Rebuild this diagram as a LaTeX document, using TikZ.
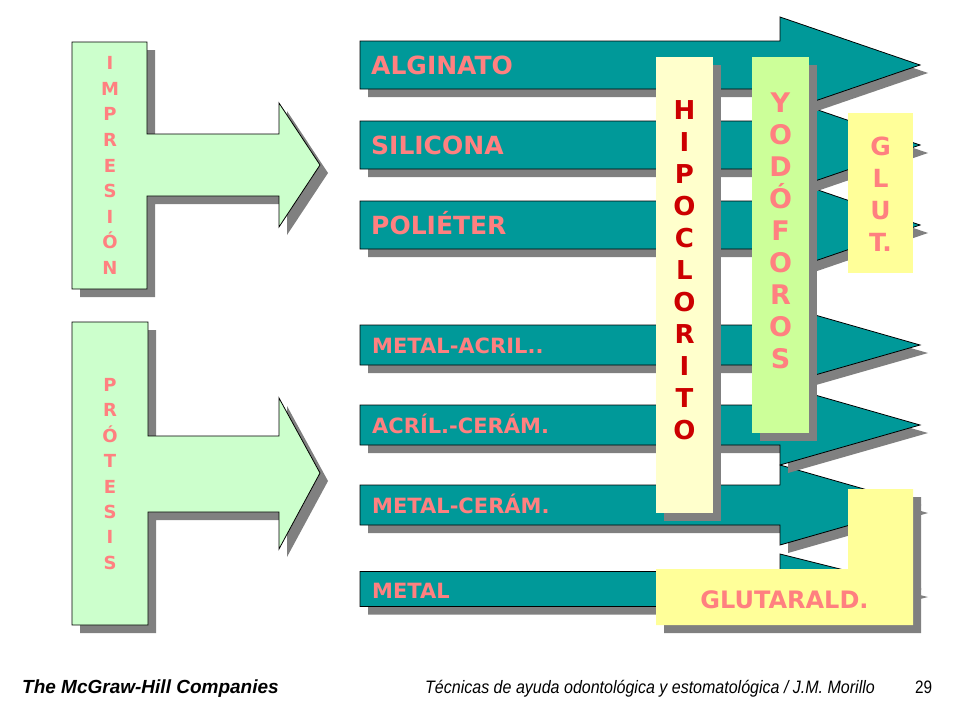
\documentclass[tikz,border=0pt]{standalone}
\usepackage{fontspec}
\setmainfont{DejaVu Sans}
\newfontfamily\footfont{Liberation Sans}
\usetikzlibrary{shadows}

\definecolor{rowteal}{HTML}{009999}
\definecolor{salmon}{HTML}{FF8080}
\definecolor{shadowgray}{HTML}{808080}
\definecolor{mint}{HTML}{CCFFCC}
\definecolor{cream}{HTML}{FFFFCC}
\definecolor{lime}{HTML}{CCFF99}
\definecolor{lemon}{HTML}{FFFF99}
\definecolor{deepred}{HTML}{CC0000}

\begin{document}
\begin{tikzpicture}[x=1pt, y=-1pt,
  shade8/.style = {drop shadow={shadow xshift=8pt, shadow yshift=-8pt, fill=shadowgray, opacity=1}},
  row/.style = {draw=black, line width=0.8pt, fill=rowteal, shade8},
  tee/.style = {draw=black, line width=0.8pt, fill=mint, shade8},
  rowtext/.style = {anchor=base west, inner sep=0pt, text=salmon, font=\bfseries\fontsize{#1}{#1}\selectfont},
  stack/.style = {align=center, inner sep=0pt, font=\bfseries\fontsize{#1}{32}\selectfont},
  panel/.style = {inner sep=0pt, minimum width=#1}]
\useasboundingbox (0,0) rectangle (960,720);

% left tees
\path[tee] (72,42) -- (147,42) -- (147,134) -- (279,134) -- (279,103) -- (320,165) -- (279,227) -- (279,196) -- (147,196) -- (147,289) -- (72,289) -- cycle;
\path[tee] (72,322) -- (148,322) -- (148,436) -- (279,436) -- (279,398) -- (320,473) -- (279,549) -- (279,512) -- (148,512) -- (148,625) -- (72,625) -- cycle;
\node[align=center, inner sep=0pt, text=salmon, font=\bfseries\fontsize{18}{25.6}\selectfont] (impresion) at (110,165.5) {I\\M\\P\\R\\E\\S\\I\\Ó\\N};
\node[align=center, inner sep=0pt, text=salmon, font=\bfseries\fontsize{18}{25.4}\selectfont] (protesis) at (110,474) {P\\R\\Ó\\T\\E\\S\\I\\S};

% material rows, bottom first
\path[row] (360,571.5) -- (780,571.5) -- (780,554) -- (920,589) -- (780,624) -- (780,606.5) -- (360,606.5) -- cycle;
\path[row] (360,485) -- (780,485) -- (780,465) -- (920,505) -- (780,545) -- (780,525) -- (360,525) -- cycle;
\path[row] (360,405) -- (780,405) -- (780,385) -- (920,425) -- (780,465) -- (780,445) -- (360,445) -- cycle;
\path[row] (360,325) -- (780,325) -- (780,305) -- (920,345) -- (780,385) -- (780,365) -- (360,365) -- cycle;
\path[row] (360,201) -- (780,201) -- (780,177) -- (920,225) -- (780,273) -- (780,249) -- (360,249) -- cycle;
\path[row] (360,121) -- (780,121) -- (780,97) -- (920,145) -- (780,193) -- (780,169) -- (360,169) -- cycle;
\path[row] (360,41) -- (780,41) -- (780,17) -- (920,65) -- (780,113) -- (780,89) -- (360,89) -- cycle;

\node[rowtext=25] (alginato) at (371,74) {ALGINATO};
\node[rowtext=25] (silicona) at (371,154) {SILICONA};
\node[rowtext=25] (polieter) at (371,234) {POLIÉTER};
\node[rowtext=21] (metalacril) at (372,353) {METAL-ACRIL..};
\node[rowtext=21] (acrilceram) at (372,433) {ACRÍL.-CERÁM.};
\node[rowtext=21] (metalceram) at (372,513) {METAL-CERÁM.};
\node[rowtext=21] (metal) at (372,598) {METAL};

% disinfectant panels
\node[panel=57pt, minimum height=456pt, fill=cream, shade8] (hipobox) at (684.5,285) {};
\node[panel=57pt, minimum height=376pt, fill=lime, shade8] (yodobox) at (780.5,245) {};
\node[panel=65pt, minimum height=160pt, fill=lemon] (glutbox) at (880.5,193) {};
\path[fill=lemon, shade8] (848,489) -- (913,489) -- (913,625) -- (656,625) -- (656,569) -- (848,569) -- cycle;

\node[stack=26, text=deepred] (hipoclorito) at (684.5,270) {H\\I\\P\\O\\C\\L\\O\\R\\I\\T\\O};
\node[stack=27, text=salmon] (yodoforos) at (780.5,230.5) {Y\\O\\D\\Ó\\F\\O\\R\\O\\S};
\node[stack=25, text=salmon] (glut) at (880.5,194.5) {G\\L\\U\\T.};
\node[anchor=base, inner sep=0pt, text=salmon, font=\bfseries\fontsize{24}{24}\selectfont] (glutarald) at (784.5,608) {GLUTARALD.};

% footer
\node[anchor=base west, inner sep=0pt, font=\footfont\bfseries\itshape\fontsize{19}{19}\selectfont] (publisher) at (22,693) {The McGraw-Hill Companies};
\node[anchor=base west, inner sep=0pt, font=\footfont\itshape\fontsize{18}{18}\selectfont] (booktitle) at (425,693) {\scalebox{0.89}[1]{Técnicas de ayuda odontológica y estomatológica / J.M. Morillo}};
\node[anchor=base west, inner sep=0pt, font=\footfont\fontsize{18}{18}\selectfont] (pagenum) at (915,693) {\scalebox{0.85}[1]{29}};
\end{tikzpicture}
\end{document}
